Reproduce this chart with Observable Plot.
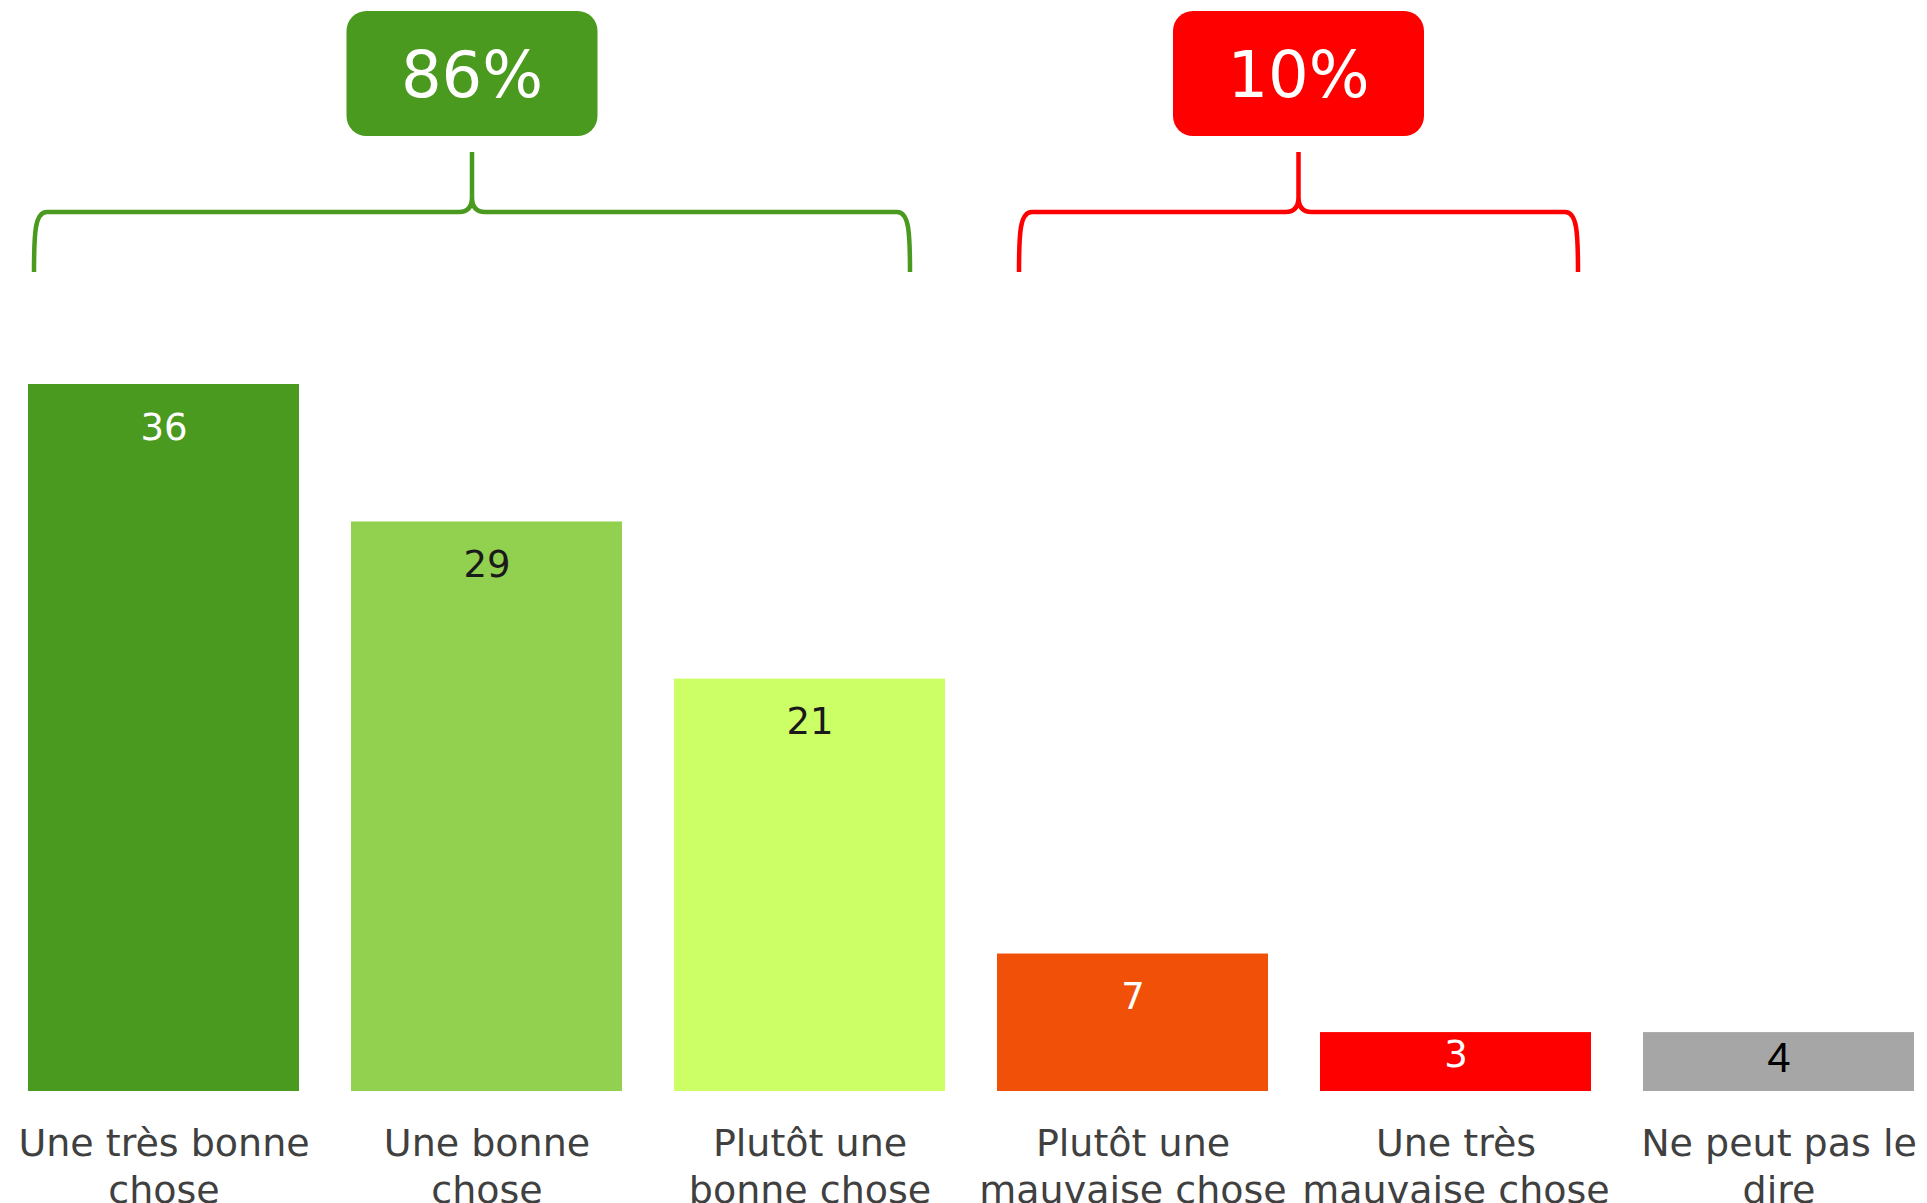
<!DOCTYPE html>
<html><head><meta charset="utf-8">
<script src="https://cdn.jsdelivr.net/npm/d3@7"></script>
<script src="https://cdn.jsdelivr.net/npm/@observablehq/plot@0.6"></script>
<style>html,body{margin:0;padding:0;background:#fff;overflow:hidden}</style>
</head><body><div id="chart"></div>
<script>
// ---- data ----
const categories = ["Une très bonne chose", "Une bonne chose", "Plutôt une bonne chose", "Plutôt une mauvaise chose", "Une très mauvaise chose", "Ne peut pas le dire"];
const tickLabels = ["Une très bonne\nchose", "Une bonne\nchose", "Plutôt une\nbonne chose", "Plutôt une\nmauvaise chose", "Une très\nmauvaise chose", "Ne peut pas le\ndire"];
// bar heights as drawn in the picture (the last bar is drawn as tall as the "3" bar)
const barHeights = [36, 29, 21, 7, 3, 3];
// printed value labels
const valueLabels = ["36", "29", "21", "7", "3", "4"];
const groupTotals = ["86%", "10%"];
const groupFirst = [0, 3];
const groupLast = [2, 4];

// ---- styles ----
const barColors = ["#4a9a1f", "#92d050", "#ccff66", "#f05008", "#ff0000", "#a6a6a6"];
const labelColors = ["#ffffff", "#1a1a1a", "#1a1a1a", "#ffffff", "#ffffff", "#000000"];
const groupColors = ["#4a9a1f", "#ff0000"];
const bracketInsetLeft = [6, 22];
const bracketInsetRight = [35, 13];

const rows = categories.map((c, i) => ({category: c, height: barHeights[i], label: valueLabels[i], color: barColors[i], labelColor: labelColors[i], i}));
const labelY = d => Math.max(d.height - 2.2, d.height * 0.62);

function brackets(index, scales) {
  const sx = scales.x;
  const bw = typeof sx.bandwidth === "function" ? sx.bandwidth() : sx.bandwidth;
  const g = d3.create("svg:g");
  groupTotals.forEach((t, k) => {
    const left = sx(categories[groupFirst[k]]) + bracketInsetLeft[k];
    const right = sx(categories[groupLast[k]]) + bw - bracketInsetRight[k];
    const mid = (left + right) / 2;
    const h = 212, bottom = 272, top = 152, r = 13;
    const p = `M${left},${bottom}C${left},${h + 20} ${left + 1},${h} ${left + r},${h}L${mid - r},${h}Q${mid},${h} ${mid},${h - r - 2}L${mid},${top}M${mid},${h - r - 2}Q${mid},${h} ${mid + r},${h}L${right - r},${h}C${right - 1},${h} ${right},${h + 20} ${right},${bottom}`;
    g.append("path").attr("d", p).attr("fill", "none").attr("stroke", groupColors[k]).attr("stroke-width", 4.5);
    g.append("rect").attr("x", mid - 125.5).attr("y", 11).attr("width", 251).attr("height", 125).attr("rx", 20).attr("fill", groupColors[k]);
    g.append("text").attr("x", mid).attr("y", 97).attr("text-anchor", "middle").attr("fill", "#ffffff").attr("font-size", 64).text(t);
  });
  return g.node();
}

const chart = Plot.plot({
  width: 1927,
  height: 1203,
  marginLeft: 27,
  marginRight: 11,
  marginTop: 384,
  marginBottom: 112,
  style: {fontFamily: "'DejaVu Sans', Verdana, sans-serif", background: "#ffffff", overflow: "visible"},
  x: {domain: categories, paddingInner: 0.16, paddingOuter: 0, label: null, axis: null},
  y: {domain: [0, 36], axis: null},
  color: {type: "identity"},
  marks: [
    Plot.barY(rows, {x: "category", y: "height", fill: "color"}),
    Plot.text(rows.filter(d => d.i < 5), {x: "category", y: labelY, text: "label", fill: "labelColor", fontSize: 37}),
    Plot.text(rows.filter(d => d.i === 5), {x: "category", y: labelY, text: "label", fill: "labelColor", fontSize: 42, fontFamily: "'Liberation Sans', Arial, sans-serif", dy: 4}),
    Plot.axisX({tickSize: 0, tickPadding: 31, fontSize: 38, fill: "#404040", lineHeight: 1.24, label: null, tickFormat: d => tickLabels[categories.indexOf(d)]}),
    brackets
  ]
});
document.getElementById("chart").append(chart);
</script>
</body></html>
